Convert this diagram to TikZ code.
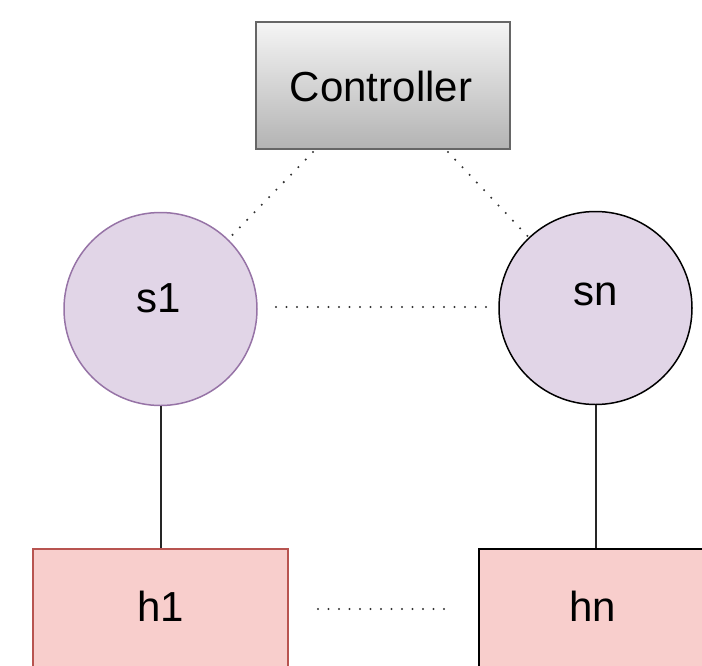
\documentclass[tikz,border=0pt]{standalone}
\usepackage{fontspec}
\setmainfont{Liberation Sans}
\usetikzlibrary{calc}
\definecolor{ctrltop}{HTML}{F5F5F5}
\definecolor{ctrlbot}{HTML}{B3B3B3}
\definecolor{ctrlline}{HTML}{666666}
\definecolor{swfill}{HTML}{E1D5E7}
\definecolor{swline}{HTML}{9673A6}
\definecolor{hostfill}{HTML}{F8CECC}
\definecolor{hostline}{HTML}{B85450}
\definecolor{dotcol}{HTML}{333333}
\tikzset{
  ctrlbox/.style={draw=ctrlline, line width=1.4pt, top color=ctrltop, bottom color=ctrlbot, minimum width=254pt, minimum height=127pt, inner sep=0pt},
  switchnode/.style={circle, fill=swfill, line width=1.5pt, minimum size=193pt, inner sep=0pt},
  hostbox/.style={draw, fill=hostfill, line width=1.5pt, minimum height=160pt, inner sep=0pt, anchor=north},
  lbl/.style={font=\fontsize{42}{50}\selectfont, inner sep=0pt},
  dotline/.style={draw=dotcol, line width=2.3pt, line cap=round, dash pattern=on 0pt off 10.5pt},
  solidline/.style={draw=black!85, line width=2pt},
}
\begin{document}
\begin{tikzpicture}[x=1pt,y=-1pt]
\useasboundingbox (0,0) rectangle (702,665);
\clip (0,0) rectangle (702,665);
% controller
\node[ctrlbox] (ctrl) at (383,85.5) {};
\node[lbl] (ctrlt) at (381,86) {Controller};
% switches
\node[switchnode, draw=swline] (s1) at (160.5,309) {};
\node[lbl] (s1t) at (158.5,298) {s1};
\node[switchnode, draw=black] (sn) at (595.5,308) {};
\node[lbl] (snt) at (595.5,294) {sn};
% hosts
\node[hostbox, draw=hostline, minimum width=255pt] (h1) at (160.5,548) {};
\node[lbl] (h1t) at (160.5,606) {h1};
\node[hostbox, draw=black, minimum width=228pt] (hn) at (593,548) {};
\node[lbl] (hnt) at (593,606) {hn};
% dotted controller links
\coordinate (c1) at (313,152);
\coordinate (c2) at (448,152);
\path[dotline] (c1) -- (s1);
\path[dotline] (c2) -- (sn);
% dotted switch link
\coordinate (sa) at (276,307);
\coordinate (sb) at (490,307);
\path[dotline] (sa) -- (sb);
% dotted host link
\coordinate (ha) at (318,609);
\coordinate (hb) at (450,609);
\path[dotline] (ha) -- (hb);
% solid links
\draw[solidline] (s1.south) -- (h1.north);
\draw[solidline] (sn.south) -- (sn.south |- hn.north);
\end{tikzpicture}
\end{document}
